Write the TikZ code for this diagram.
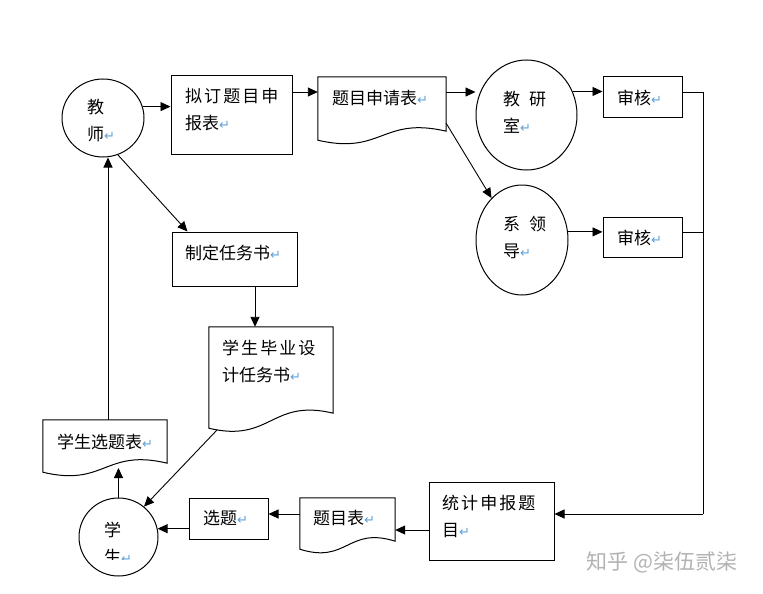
\documentclass[tikz,border=0pt]{standalone}
\usepackage{fontspec}
\newfontfamily\cjk{Noto Sans CJK SC}
\newfontfamily\cjkw[LetterSpace=12]{Noto Sans CJK SC}
\newfontfamily\djv{DejaVu Sans}
\usetikzlibrary{arrows.meta,calc,shapes.geometric}
\definecolor{pmblue}{RGB}{95,160,215}
\definecolor{wmgray}{RGB}{178,178,178}
\newcommand\parmark{{\djv\fontsize{13}{13}\selectfont\color{pmblue}↵}}
\newcommand\docshape[2]{\draw[line width=1pt] (#1.south west) .. controls ($(#1.south west)!0.5!(#1.south east)+(0,15)$) and ($(#1.south west)!0.5!(#1.south east)+(0,-15-#2)$) .. ($(#1.south east)+(0,-#2)$) -- (#1.north east) -- (#1.north west) -- cycle;}
\tikzset{
 box/.style={draw, line width=1pt, rectangle, inner sep=0pt},
 oval/.style={draw, line width=1pt, ellipse, inner sep=0pt},
 docbox/.style={rectangle, inner sep=0pt, draw=none},
 lbl/.style={anchor=west, align=left, inner sep=0pt, font=\cjk\fontsize{17}{27}\selectfont},
 arr/.style={line width=0.9pt, -{Triangle[length=10pt,width=9pt]}},
 ln/.style={line width=0.9pt},
}
\begin{document}
\begin{tikzpicture}[x=1pt,y=-1pt]
\useasboundingbox[fill=white] (0,0) rectangle (763,594);
% helper coordinates
\coordinate (r1) at (0,92);
\coordinate (r2) at (0,232);
\coordinate (r4) at (0,514);
\coordinate (r5) at (0,530);
\coordinate (rc) at (703,514);
\coordinate (c1) at (255,0);
\coordinate (c2) at (108,0);
\coordinate (xtbot) at (0,468);
\coordinate (sqout) at (446,123);
\coordinate (rwsout) at (217,430);
% shapes
\node[oval, minimum width=82pt, minimum height=78pt] (js) at (103,118) {};
\node[box, minimum width=121pt, minimum height=78pt] (nd) at (231.5,115) {};
\node[docbox, minimum width=128pt, minimum height=63pt] (sq) at (382,108.5) {};
\docshape{sq}{9}
\node[oval, minimum width=101pt, minimum height=110pt] (jys) at (526.5,115) {};
\node[box, minimum width=79pt, minimum height=40pt] (sh1) at (642.5,97) {};
\node[oval, minimum width=92pt, minimum height=110pt] (xld) at (522,240) {};
\node[box, minimum width=79pt, minimum height=40pt] (sh2) at (642.5,237) {};
\node[box, minimum width=125pt, minimum height=54pt] (zd) at (234.5,259) {};
\node[docbox, minimum width=124pt, minimum height=101pt] (rws) at (271,377.5) {};
\docshape{rws}{15}
\node[docbox, minimum width=124pt, minimum height=52pt] (xt) at (105,446) {};
\docshape{xt}{9}
\node[oval, minimum width=79pt, minimum height=78pt] (xs) at (118.5,537) {};
\node[box, minimum width=79pt, minimum height=41pt] (xtb) at (228.5,518.5) {};
\node[docbox, minimum width=95pt, minimum height=51pt] (tmb) at (347.5,523.5) {};
\docshape{tmb}{8}
\node[box, minimum width=125pt, minimum height=78pt] (tj) at (491.5,521) {};
% labels
\node[lbl] (jsl) at (87,121) {教\\师\parmark};
\node[lbl] (ndl) at (185,110) {{\cjkw 拟订题目申}\\报表\parmark};
\node[lbl] (sql) at (332,98) {题目申请表\parmark};
\node[lbl] (jysl) at (503,112.5) {教\hspace{9pt}研\\室\parmark};
\node[lbl] (sh1l) at (617,98) {审核\parmark};
\node[lbl] (xldl) at (503,237) {系\hspace{9pt}领\\导\parmark};
\node[lbl] (sh2l) at (617,238) {审核\parmark};
\node[lbl] (zdl) at (185,253) {制定任务书\parmark};
\node[lbl] (rwsl) at (222,361) {{\cjkw 学生毕业设}\\计任务书\parmark};
\node[lbl] (xtl) at (57,442) {学生选题表\parmark};
\begin{scope}
\clip (0,0) rectangle (763,559);
\node[lbl] (xsl) at (104,543) {学\\生\parmark};
\end{scope}
\node[lbl] (xtbl) at (203,518) {选题\parmark};
\node[lbl] (tmbl) at (313,518) {题目表\parmark};
\node[lbl] (tjl) at (442,516.5) {{\cjkw 统计申报题}\\目\parmark};
\node[anchor=center, inner sep=0pt, text=wmgray, font=\cjk\fontsize{21}{21}\selectfont] (wm) at (662,562) {知乎 @柒伍贰柒};
% connectors
\draw[arr] (js.16) -- (js.16 -| nd.west);
\draw[arr] (nd.east |- r1) -- (sq.west |- r1);
\draw[arr] (sq.east |- r1) -- (jys.west |- r1);
\draw[arr] (jys.27) -- (sh1.west |- jys.27);
\draw[ln] (sh1.east |- r1) -| (rc);
\draw[ln] (sh2.east |- r2) -- (rc |- r2);
\draw[arr] (rc) -- (tj.east |- rc);
\draw[arr] (sqout) -- (xld.126);
\draw[arr] (xld.10) -- (sh2.west |- xld.10);
\draw[arr] (js.-68) -- ($(zd.north west)+(16,0)$);
\draw[arr] (zd.south -| c1) -- (rws.north -| c1);
\draw[arr] (rwsout) -- (xs.50);
\draw[arr] (xs.north) -- (xs.north |- xtbot);
\draw[arr] (xt.north -| c2) -- (js.south -| c2);
\draw[arr] (xtb.west |- xs.12) -- (xs.12);
\draw[arr] (tmb.west |- r4) -- (xtb.east |- r4);
\draw[arr] (tj.west |- r5) -- (tmb.east |- r5);
\end{tikzpicture}
\end{document}
